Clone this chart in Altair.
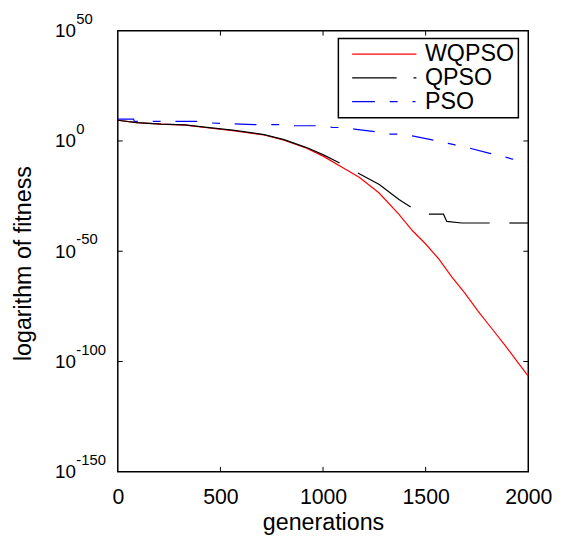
import altair as alt
import pandas as pd

# ---- data (x = generation, exponent of fitness) ----
series_names = ["WQPSO", "QPSO", "PSO"]
series_colors = ["#ff0000", "#000000", "#0000ff"]

wq_gen = [0, 92, 212, 328, 424, 569, 713, 810, 920, 1002, 1099, 1176, 1272, 1369,
          1435, 1499, 1563, 1627, 1692, 1756, 1820, 1884, 1949, 2000]
wq_exp = [9.4, 8.3, 7.6, 7.2, 6.1, 4.6, 2.7, 0.4, -3.3, -7.0, -12.3, -16.5, -23.5, -33.2,
          -40.6, -46.6, -53.4, -61.6, -69.1, -77.3, -84.8, -92.3, -100.4, -106.6]

q_gen = [0, 92, 212, 328, 424, 569, 713, 810, 920, 1002, 1081,
         1170, 1274, 1370, 1427,
         1516, 1587, 1603, 1676, 1812,
         1908, 2000]
q_exp = [9.4, 8.3, 7.6, 7.3, 6.3, 4.8, 2.9, 0.6, -3.0, -6.3, -10.0,
         -14.5, -19.7, -26.5, -29.9,
         -33.2, -33.2, -36.5, -37.2, -37.2,
         -37.2, -37.2]
q_seg = [1, 1, 1, 1, 1, 1, 1, 1, 1, 1, 1,
         2, 2, 2, 2,
         3, 3, 3, 3, 3,
         4, 4]

p_gen = [0, 77, 80, 381, 438, 665, 790, 862, 978, 1050, 1080, 1152, 1258, 1330, 1369,
         1441, 1537, 1610, 1643, 1716, 1812, 1875, 1918, 2000]
p_exp = [9.9, 9.9, 8.9, 8.9, 8.2, 7.4, 7.4, 6.9, 6.9, 6.1, 6.1, 5.4, 4.2, 3.1, 3.1,
         2.2, 0.4, -1.1, -1.8, -3.3, -5.6, -7.0, -8.1, -9.4]

x_ticks = [0, 500, 1000, 1500, 2000]
y_ticks = [1e-150, 1e-100, 1e-50, 1e0, 1e50]
y_tick_exponents = ["-150", "-100", "-50", "0", "50"]
inner_x_ticks = [500, 1000, 1500]
inner_y_ticks = [1e-100, 1e-50, 1e0]

# ---- build tables ----
rows = []
for g, e in zip(wq_gen, wq_exp):
    rows.append({"gen": g, "fit": 10.0 ** e, "series": "WQPSO", "seg": "W"})
for g, e, s in zip(q_gen, q_exp, q_seg):
    rows.append({"gen": g, "fit": 10.0 ** e, "series": "QPSO", "seg": "Q%d" % s})
for g, e in zip(p_gen, p_exp):
    rows.append({"gen": g, "fit": 10.0 ** e, "series": "PSO", "seg": "P"})
df = pd.DataFrame(rows)

legend_df = pd.DataFrame({
    "gen": [wq_gen[0], q_gen[0], p_gen[0]],
    "fit": [10.0 ** wq_exp[0], 10.0 ** q_exp[0], 10.0 ** p_exp[0]],
    "series": series_names,
})
exp_df = pd.DataFrame({"fit": y_ticks, "label": y_tick_exponents})

W, H = 415, 446
FONT = "Liberation Sans"

xscale = alt.Scale(domain=[0, 2000], nice=False, zero=False)
yscale = alt.Scale(type="log", domain=[1e-150, 1e50], nice=False)
cscale = alt.Scale(domain=series_names, range=series_colors)
dscale = alt.Scale(domain=series_names,
                   range=[[1, 0], [45, 17, 3, 20], [23, 15, 8, 15, 3, 20]])

x_enc = alt.X("gen:Q", scale=xscale,
              axis=alt.Axis(values=x_ticks, format="d", title="generations",
                            labelFlush=False, labelOverlap=False,
                            labelFontSize=21.5, labelPadding=15, titlePadding=3))
y_enc = alt.Y("fit:Q", scale=yscale,
              axis=alt.Axis(values=y_ticks, labelExpr="'10'",
                            title="logarithm of fitness", labelAlign="left",
                            labelFontSize=19, labelPadding=64, labelBaseline="middle",
                            labelOverlap=False, labelFlush=False,
                            titleX=-95, titleY=235, titleAngle=270,
                            titleAlign="center", titleBaseline="middle"))

solid = alt.Chart(df[df.series != "PSO"]).mark_line(strokeWidth=1.2).encode(
    x=x_enc, y=y_enc,
    color=alt.Color("series:N", scale=cscale, legend=None),
    detail="seg:N",
)
dashed = alt.Chart(df[df.series == "PSO"]).mark_line(strokeWidth=1.2).encode(
    x=x_enc, y=y_enc,
    color=alt.Color("series:N", scale=cscale, legend=None),
    strokeDash=alt.value([22, 15, 8, 15]),
)
legend_props = dict(title=None, orient="none", legendX=223, legendY=8,
                    strokeColor="black", fillColor="white", padding=4,
                    symbolType="M-1,0H5", symbolSize=470,
                    symbolStrokeWidth=1.3, symbolOffset=9,
                    labelOffset=51, labelFont=FONT, labelFontSize=23.5,
                    labelColor="black")
legend_layer = alt.Chart(legend_df).mark_line(strokeWidth=1.2).encode(
    x=x_enc, y=y_enc,
    color=alt.Color("series:N", scale=cscale, sort=series_names,
                    legend=alt.Legend(**legend_props)),
    strokeDash=alt.StrokeDash("series:N", scale=dscale, sort=series_names,
                              legend=alt.Legend(**legend_props)),
)

exponents = alt.Chart(exp_df).mark_text(
    align="left", baseline="middle", font=FONT, fontSize=15, color="black", dy=-12
).encode(
    y=alt.Y("fit:Q", scale=yscale), x=alt.value(-42), text="label:N")

xt = pd.DataFrame({"gen": inner_x_ticks})
yt = pd.DataFrame({"fit": inner_y_ticks})
tick_bottom = alt.Chart(xt).mark_rule(color="black", strokeWidth=1).encode(
    x=alt.X("gen:Q", scale=xscale), y=alt.value(H - 5), y2=alt.value(H))
tick_top = alt.Chart(xt).mark_rule(color="black", strokeWidth=1).encode(
    x=alt.X("gen:Q", scale=xscale), y=alt.value(0), y2=alt.value(5))
tick_left = alt.Chart(yt).mark_rule(color="black", strokeWidth=1).encode(
    y=alt.Y("fit:Q", scale=yscale), x=alt.value(0), x2=alt.value(5))
tick_right = alt.Chart(yt).mark_rule(color="black", strokeWidth=1).encode(
    y=alt.Y("fit:Q", scale=yscale), x=alt.value(W - 5), x2=alt.value(W))

chart = alt.layer(
    tick_bottom, tick_top, tick_left, tick_right, exponents, dashed, solid, legend_layer
).resolve_scale(
    color="independent", strokeDash="independent"
).resolve_legend(
    color="independent", strokeDash="independent"
).properties(
    width=W, height=H,
    autosize=alt.AutoSizeParams(type="none"),
    padding={"left": 111, "top": 20, "right": 25, "bottom": 64},
    background="white",
).configure_view(
    stroke="black", strokeWidth=1.5
).configure_axis(
    labelFont=FONT, labelColor="black",
    titleFont=FONT, titleFontSize=23.5, titleFontWeight="normal", titleColor="black",
    domain=False, grid=False, ticks=False, tickSize=0,
).configure_legend(
    strokeWidth=1.5, rowPadding=-4
)

chart.save("out.html", embed_options={"renderer": "svg", "actions": False})
